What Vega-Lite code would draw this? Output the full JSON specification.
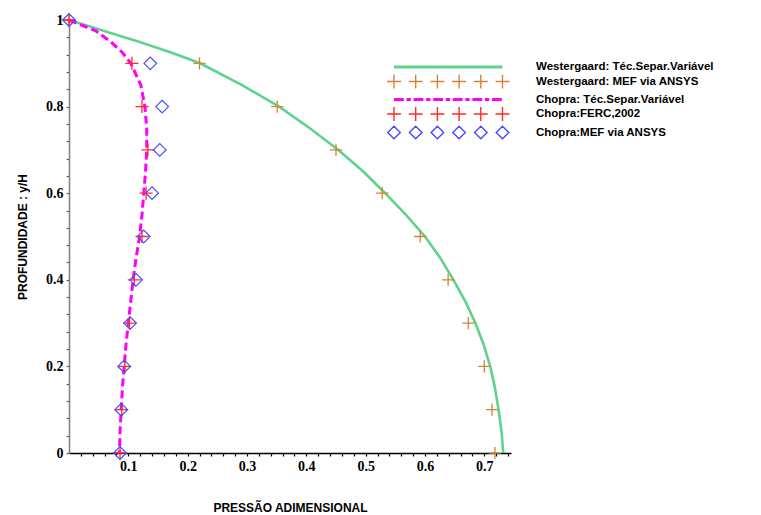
{
  "$schema": "https://vega.github.io/schema/vega-lite/v6.json",
  "width": 442,
  "height": 433,
  "autosize": {"type": "none"},
  "padding": {"left": 69, "top": 20, "right": 250, "bottom": 62},
  "background": "white",
  "config": {"view": {"stroke": null}},
  "datasets": {
    "curves": [
      {"series": "Westergaard: Téc.Separ.Variável", "y": 1.0, "p": 0.0},
      {"series": "Westergaard: Téc.Separ.Variável", "y": 0.975, "p": 0.058},
      {"series": "Westergaard: Téc.Separ.Variável", "y": 0.95, "p": 0.118},
      {"series": "Westergaard: Téc.Separ.Variável", "y": 0.925, "p": 0.172},
      {"series": "Westergaard: Téc.Separ.Variável", "y": 0.9, "p": 0.221},
      {"series": "Westergaard: Téc.Separ.Variável", "y": 0.85, "p": 0.291},
      {"series": "Westergaard: Téc.Separ.Variável", "y": 0.8, "p": 0.354},
      {"series": "Westergaard: Téc.Separ.Variável", "y": 0.75, "p": 0.406},
      {"series": "Westergaard: Téc.Separ.Variável", "y": 0.7, "p": 0.454},
      {"series": "Westergaard: Téc.Separ.Variável", "y": 0.65, "p": 0.496},
      {"series": "Westergaard: Téc.Separ.Variável", "y": 0.6, "p": 0.533},
      {"series": "Westergaard: Téc.Separ.Variável", "y": 0.55, "p": 0.568},
      {"series": "Westergaard: Téc.Separ.Variável", "y": 0.5, "p": 0.6},
      {"series": "Westergaard: Téc.Separ.Variável", "y": 0.45, "p": 0.626},
      {"series": "Westergaard: Téc.Separ.Variável", "y": 0.4, "p": 0.648},
      {"series": "Westergaard: Téc.Separ.Variável", "y": 0.35, "p": 0.668},
      {"series": "Westergaard: Téc.Separ.Variável", "y": 0.3, "p": 0.685},
      {"series": "Westergaard: Téc.Separ.Variável", "y": 0.25, "p": 0.699},
      {"series": "Westergaard: Téc.Separ.Variável", "y": 0.2, "p": 0.71},
      {"series": "Westergaard: Téc.Separ.Variável", "y": 0.15, "p": 0.718},
      {"series": "Westergaard: Téc.Separ.Variável", "y": 0.1, "p": 0.724},
      {"series": "Westergaard: Téc.Separ.Variável", "y": 0.05, "p": 0.729},
      {"series": "Westergaard: Téc.Separ.Variável", "y": 0.0, "p": 0.732},
      {"series": "Chopra: Téc.Separ.Variável", "y": 1.0, "p": 0.0},
      {"series": "Chopra: Téc.Separ.Variável", "y": 0.99, "p": 0.018},
      {"series": "Chopra: Téc.Separ.Variável", "y": 0.975, "p": 0.045},
      {"series": "Chopra: Téc.Separ.Variável", "y": 0.95, "p": 0.07},
      {"series": "Chopra: Téc.Separ.Variável", "y": 0.925, "p": 0.09},
      {"series": "Chopra: Téc.Separ.Variável", "y": 0.9, "p": 0.104},
      {"series": "Chopra: Téc.Separ.Variável", "y": 0.85, "p": 0.121},
      {"series": "Chopra: Téc.Separ.Variável", "y": 0.8, "p": 0.128},
      {"series": "Chopra: Téc.Separ.Variável", "y": 0.75, "p": 0.131},
      {"series": "Chopra: Téc.Separ.Variável", "y": 0.7, "p": 0.131},
      {"series": "Chopra: Téc.Separ.Variável", "y": 0.65, "p": 0.129},
      {"series": "Chopra: Téc.Separ.Variável", "y": 0.6, "p": 0.126},
      {"series": "Chopra: Téc.Separ.Variável", "y": 0.55, "p": 0.123},
      {"series": "Chopra: Téc.Separ.Variável", "y": 0.5, "p": 0.119},
      {"series": "Chopra: Téc.Separ.Variável", "y": 0.45, "p": 0.113},
      {"series": "Chopra: Téc.Separ.Variável", "y": 0.4, "p": 0.108},
      {"series": "Chopra: Téc.Separ.Variável", "y": 0.35, "p": 0.104},
      {"series": "Chopra: Téc.Separ.Variável", "y": 0.3, "p": 0.1},
      {"series": "Chopra: Téc.Separ.Variável", "y": 0.25, "p": 0.096},
      {"series": "Chopra: Téc.Separ.Variável", "y": 0.2, "p": 0.093},
      {"series": "Chopra: Téc.Separ.Variável", "y": 0.15, "p": 0.09},
      {"series": "Chopra: Téc.Separ.Variável", "y": 0.1, "p": 0.088},
      {"series": "Chopra: Téc.Separ.Variável", "y": 0.05, "p": 0.086},
      {"series": "Chopra: Téc.Separ.Variável", "y": 0.0, "p": 0.085}
    ],
    "points": [
      {"series": "Westergaard: MEF via ANSYS", "y": 1.0, "p": 0.0},
      {"series": "Westergaard: MEF via ANSYS", "y": 0.9, "p": 0.22},
      {"series": "Westergaard: MEF via ANSYS", "y": 0.8, "p": 0.351},
      {"series": "Westergaard: MEF via ANSYS", "y": 0.7, "p": 0.45},
      {"series": "Westergaard: MEF via ANSYS", "y": 0.6, "p": 0.528},
      {"series": "Westergaard: MEF via ANSYS", "y": 0.5, "p": 0.592},
      {"series": "Westergaard: MEF via ANSYS", "y": 0.4, "p": 0.639},
      {"series": "Westergaard: MEF via ANSYS", "y": 0.3, "p": 0.673},
      {"series": "Westergaard: MEF via ANSYS", "y": 0.2, "p": 0.7},
      {"series": "Westergaard: MEF via ANSYS", "y": 0.1, "p": 0.713},
      {"series": "Westergaard: MEF via ANSYS", "y": 0.0, "p": 0.718},
      {"series": "Chopra:FERC,2002", "y": 1.0, "p": 0.0},
      {"series": "Chopra:FERC,2002", "y": 0.9, "p": 0.106},
      {"series": "Chopra:FERC,2002", "y": 0.8, "p": 0.123},
      {"series": "Chopra:FERC,2002", "y": 0.7, "p": 0.133},
      {"series": "Chopra:FERC,2002", "y": 0.6, "p": 0.13},
      {"series": "Chopra:FERC,2002", "y": 0.5, "p": 0.123},
      {"series": "Chopra:FERC,2002", "y": 0.4, "p": 0.11},
      {"series": "Chopra:FERC,2002", "y": 0.3, "p": 0.102},
      {"series": "Chopra:FERC,2002", "y": 0.2, "p": 0.094},
      {"series": "Chopra:FERC,2002", "y": 0.1, "p": 0.089},
      {"series": "Chopra:FERC,2002", "y": 0.0, "p": 0.086},
      {"series": "Chopra:MEF via ANSYS", "y": 1.0, "p": 0.0},
      {"series": "Chopra:MEF via ANSYS", "y": 0.9, "p": 0.137},
      {"series": "Chopra:MEF via ANSYS", "y": 0.8, "p": 0.157},
      {"series": "Chopra:MEF via ANSYS", "y": 0.7, "p": 0.153},
      {"series": "Chopra:MEF via ANSYS", "y": 0.6, "p": 0.14},
      {"series": "Chopra:MEF via ANSYS", "y": 0.5, "p": 0.126},
      {"series": "Chopra:MEF via ANSYS", "y": 0.4, "p": 0.113},
      {"series": "Chopra:MEF via ANSYS", "y": 0.3, "p": 0.103},
      {"series": "Chopra:MEF via ANSYS", "y": 0.2, "p": 0.093},
      {"series": "Chopra:MEF via ANSYS", "y": 0.1, "p": 0.088},
      {"series": "Chopra:MEF via ANSYS", "y": 0.0, "p": 0.086}
    ]
  },
  "encoding": {
    "x": {
      "field": "p", "type": "quantitative",
      "scale": {"domain": [0, 0.745], "nice": false, "zero": false},
      "axis": {
        "orient": "bottom",
        "title": "PRESSÃO ADIMENSIONAL",
        "values": [0.02, 0.04, 0.06, 0.08, 0.1, 0.12, 0.14, 0.16, 0.18, 0.2, 0.22, 0.24, 0.26, 0.28, 0.3, 0.32, 0.34, 0.36, 0.38, 0.4, 0.42, 0.44, 0.46, 0.48, 0.5, 0.52, 0.54, 0.56, 0.58, 0.6, 0.62, 0.64, 0.66, 0.68, 0.7, 0.72, 0.74],
        "labelExpr": "abs(datum.value*10 - round(datum.value*10)) < 0.001 ? format(datum.value, '.1f') : ''",
        "labelOverlap": false,
        "grid": false,
        "domainColor": "black", "domainWidth": 1.5,
        "tickColor": "black", "tickSize": 3, "tickWidth": 1.2,
        "labelFont": "Liberation Serif", "labelFontWeight": "bold", "labelFontSize": 14, "labelColor": "black",
        "labelPadding": 3,
        "titleFont": "Liberation Sans", "titleFontWeight": "bold", "titleFontSize": 12, "titleColor": "black",
        "titlePadding": 29
      }
    },
    "y": {
      "field": "y", "type": "quantitative",
      "scale": {"domain": [0, 1], "nice": false},
      "axis": {
        "orient": "left",
        "title": "PROFUNDIDADE : y/H",
        "values": [0, 0.04, 0.08, 0.12, 0.16, 0.2, 0.24, 0.28, 0.32, 0.36, 0.4, 0.44, 0.48, 0.52, 0.56, 0.6, 0.64, 0.68, 0.72, 0.76, 0.8, 0.84, 0.88, 0.92, 0.96, 1],
        "labelExpr": "abs(datum.value*5 - round(datum.value*5)) < 0.001 ? format(datum.value, '~g') : ''",
        "labelOverlap": false,
        "grid": false,
        "domainColor": "#808080", "domainWidth": 1.5,
        "tickColor": "#606060", "tickSize": 3, "tickWidth": 1.2,
        "labelFont": "Liberation Serif", "labelFontWeight": "bold", "labelFontSize": 14, "labelColor": "black",
        "labelPadding": 3,
        "titleFont": "Liberation Sans", "titleFontWeight": "bold", "titleFontSize": 12, "titleColor": "black",
        "titlePadding": 16
      }
    },
    "color": {
      "field": "series", "type": "nominal",
      "scale": {
        "domain": ["Westergaard: Téc.Separ.Variável", "Westergaard: MEF via ANSYS", "Chopra: Téc.Separ.Variável", "Chopra:FERC,2002", "Chopra:MEF via ANSYS"],
        "range": ["#5fd38d", "#d4843a", "#ff00ff", "#ff2a2a", "#4a4aff"]
      },
      "legend": {
        "orient": "none", "legendX": 317, "legendY": 39,
        "title": null, "padding": 0,
        "symbolSize": 196, "symbolStrokeWidth": 1.4, "rowPadding": -1.5,
        "labelOffset": 134, "labelLimit": 300,
        "labelFont": "Liberation Sans", "labelFontWeight": "bold", "labelFontSize": 11.5, "labelColor": "black",
        "encode": {
          "symbols": {
            "update": {
              "shape": {"signal": "(indexof(datum.value,'FERC')>=0 || indexof(datum.value,'Westergaard: MEF')>=0) ? 'M-1,0L1,0M0,-1L0,1M2.1,0L4.1,0M3.1,-1L3.1,1M5.2,0L7.2,0M6.2,-1L6.2,1M8.3,0L10.3,0M9.3,-1L9.3,1M11.4,0L13.4,0M12.4,-1L12.4,1M14.5,0L16.5,0M15.5,-1L15.5,1' : indexof(datum.value,'Chopra:MEF')>=0 ? 'M0,-0.9L0.9,0L0,0.9L-0.9,0ZM3.1,-0.9L4,0L3.1,0.9L2.2,0ZM6.2,-0.9L7.1,0L6.2,0.9L5.3,0ZM9.3,-0.9L10.2,0L9.3,0.9L8.4,0ZM12.4,-0.9L13.3,0L12.4,0.9L11.5,0ZM15.5,-0.9L16.4,0L15.5,0.9L14.6,0Z' : indexof(datum.value,'Chopra: T')>=0 ? 'M0.1,-0.1L1.3,-0.1L1.3,0.1L0.1,0.1ZM1.9,-0.1L2.3,-0.1L2.3,0.1L1.9,0.1ZM2.9,-0.1L4.1,-0.1L4.1,0.1L2.9,0.1ZM4.7,-0.1L5.1,-0.1L5.1,0.1L4.7,0.1ZM5.7,-0.1L6.9,-0.1L6.9,0.1L5.7,0.1ZM7.5,-0.1L7.9,-0.1L7.9,0.1L7.5,0.1ZM8.5,-0.1L9.7,-0.1L9.7,0.1L8.5,0.1ZM10.3,-0.1L10.7,-0.1L10.7,0.1L10.3,0.1ZM11.3,-0.1L12.5,-0.1L12.5,0.1L11.3,0.1ZM13.1,-0.1L13.5,-0.1L13.5,0.1L13.1,0.1ZM14.1,-0.1L15.3,-0.1L15.3,0.1L14.1,0.1Z' : 'M0.1,-0.1L15.4,-0.1L15.4,0.1L0.1,0.1Z'"},
              "fill": {"value": "transparent"}
            }
          }
        }
      }
    }
  },
  "layer": [
    {
      "data": {"name": "curves"},
      "transform": [{"filter": "indexof(datum.series,'Westergaard')>=0"}],
      "mark": {"type": "line", "strokeWidth": 2.6},
      "encoding": {"order": {"field": "y", "sort": "descending"}}
    },
    {
      "data": {"name": "points"},
      "transform": [{"filter": "datum.series == 'Westergaard: MEF via ANSYS'"}],
      "mark": {"type": "point", "shape": "M-1,0L1,0M0,-1L0,1", "filled": false, "size": 150, "strokeWidth": 1.3, "opacity": 1}
    },
    {
      "data": {"name": "curves"},
      "transform": [{"filter": "indexof(datum.series,'Chopra')>=0"}],
      "mark": {"type": "line", "strokeWidth": 3, "strokeDash": [8, 4]},
      "encoding": {"order": {"field": "y", "sort": "descending"}}
    },
    {
      "data": {"name": "points"},
      "transform": [{"filter": "datum.series == 'Chopra:FERC,2002'"}],
      "mark": {"type": "point", "shape": "M-1,0L1,0M0,-1L0,1", "filled": false, "size": 170, "strokeWidth": 1.3, "opacity": 1}
    },
    {
      "data": {"name": "points"},
      "transform": [{"filter": "datum.series == 'Chopra:MEF via ANSYS'"}],
      "mark": {"type": "point", "shape": "diamond", "filled": false, "size": 160, "strokeWidth": 1.2, "opacity": 1}
    }
  ]
}
